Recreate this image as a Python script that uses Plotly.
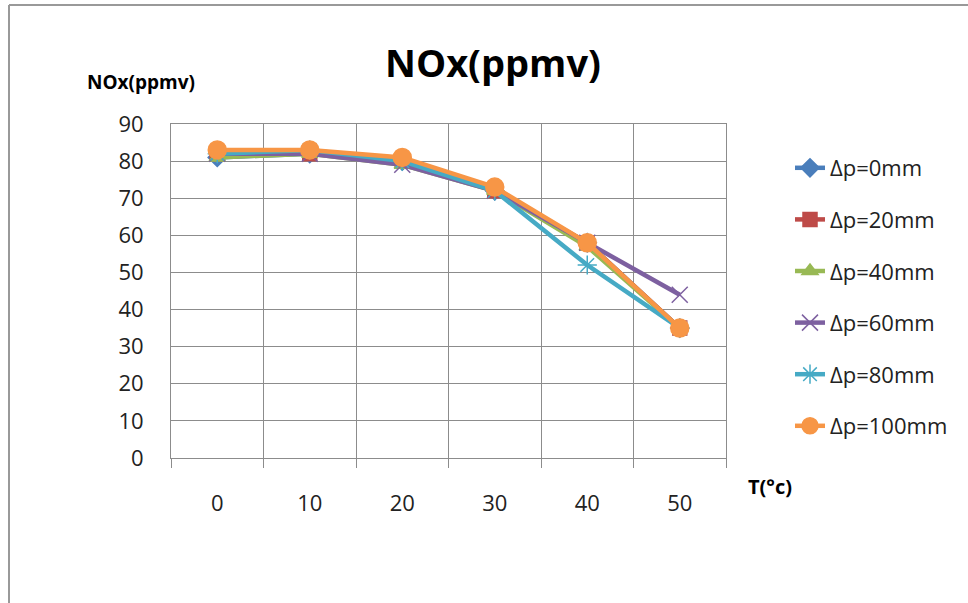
import plotly.graph_objects as go

temps = ["0", "10", "20", "30", "40", "50"]
series_names = ["Δp=0mm", "Δp=20mm", "Δp=40mm", "Δp=60mm", "Δp=80mm", "Δp=100mm"]
dp0 = [81, 82, 80, 72, 58, 35]
dp20 = [82, 82, 80, 72, 58, 35]
dp40 = [81, 82, 79, 72, 57, 35]
dp60 = [82, 82, 79, 72, 58, 44]
dp80 = [82, 83, 80, 72, 52, 35]
dp100 = [83, 83, 81, 73, 58, 35]
y_ticks = [0, 10, 20, 30, 40, 50, 60, 70, 80, 90]

values = [dp0, dp20, dp40, dp60, dp80, dp100]
colors = ["#4A7EBB", "#BE4B48", "#98B954", "#7D60A0", "#46AAC5", "#F79646"]
symbols = ["diamond", "square", "triangle-up", "x-thin-open", "asterisk-open", "circle"]
sizes = [14, 14, 14, 16, 16, 18]

FONT = "Open Sans"
L, R, T, B = 171, 726, 124, 458
W, H = 968, 603
pw, ph = R - L, B - T

def px(x):
    return (x - L) / pw

def py(y):
    return (B - y) / ph

fig = go.Figure()
for name, vals, c, s, sz in zip(series_names, values, colors, symbols, sizes):
    fig.add_trace(go.Scatter(
        x=temps, y=vals, name=name, mode="lines+markers",
        legendgroup=name,
        line=dict(color=c, width=4.5),
        marker=dict(symbol=s, size=sz, color=c, line=dict(color=c, width=1.5)),
    ))

fig.update_layout(
    width=W, height=H,
    margin=dict(l=L, r=W - R, t=T, b=H - B),
    paper_bgcolor="white", plot_bgcolor="white",
    showlegend=True,
    legend=dict(x=px(790), y=py(147), xanchor="left", yanchor="top",
                font=dict(family=FONT, size=22, color="#222"),
                tracegroupgap=20, bgcolor="rgba(0,0,0,0)"),
    xaxis=dict(type="category", range=[-0.5, 5.5], tickson="boundaries", showgrid=True,
               gridcolor="#8c8c8c", gridwidth=1, ticks="outside", ticklen=9,
               tickcolor="#8c8c8c", showline=True, linecolor="#8c8c8c",
               mirror=True, zeroline=False, ticklabelstandoff=26,
               tickfont=dict(family=FONT, size=22, color="#222")),
    yaxis=dict(range=[0, 90], tickvals=y_ticks, showgrid=True,
               gridcolor="#8c8c8c", gridwidth=1, showline=True,
               linecolor="#8c8c8c", mirror=True, zeroline=False, ticks="",
               ticklabelstandoff=22,
               tickfont=dict(family=FONT, size=22, color="#222")),
    annotations=[
        dict(text="<b>NOx(ppmv)</b>", x=px(493), y=py(62), xref="paper", yref="paper",
             xanchor="center", yanchor="middle",
             showarrow=False, font=dict(family=FONT, size=38, color="black")),
        dict(text="<b>NOx(ppmv)</b>", x=px(141), y=py(82), xref="paper", yref="paper",
             xanchor="center", yanchor="middle",
             showarrow=False, font=dict(family=FONT, size=19, color="black")),
        dict(text="<b>T(°c)</b>", x=px(770), y=py(486), xref="paper", yref="paper",
             xanchor="center", yanchor="middle",
             showarrow=False, font=dict(family=FONT, size=20, color="black")),
    ],
    shapes=[
        dict(type="line", xref="paper", yref="paper", x0=px(9), x1=px(9),
             y0=py(5), y1=py(610), line=dict(color="#999", width=2)),
        dict(type="line", xref="paper", yref="paper", x0=px(9), x1=px(975),
             y0=py(5), y1=py(5), line=dict(color="#999", width=2)),
    ],
)

fig.write_html("out.html")
